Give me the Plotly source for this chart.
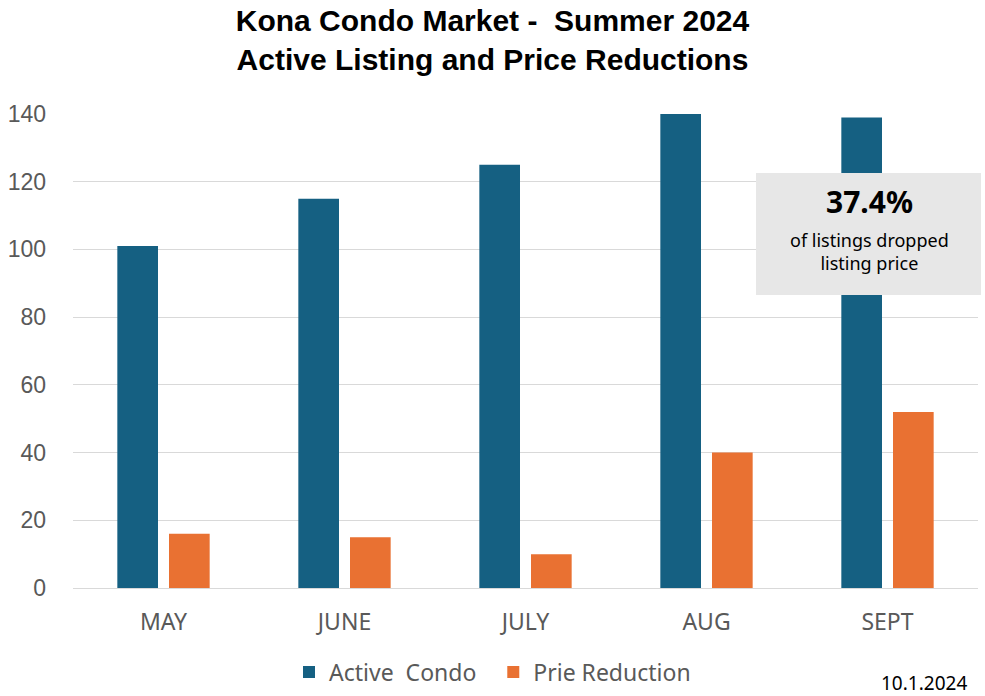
import plotly.graph_objects as go

months = ["MAY", "JUNE", "JULY", "AUG", "SEPT"]
active_condo = [101, 115, 125, 140, 139]
price_reduction = [16, 15, 10, 40, 52]
y_ticks = [0, 20, 40, 60, 80, 100, 120, 140]

BLUE = "#156082"
ORANGE = "#E97132"
GRAY_TXT = "#595959"
GRID = "#D9D9D9"

L, R, T, B = 73, 978, 114, 588
W, H = R - L, B - T


def px(x):
    return (x - L) / W


def py(y):
    return (B - y) / H


fig = go.Figure()
fig.add_trace(go.Bar(x=months, y=active_condo, name="Active\u00a0 Condo\u00a0\u00a0",
                     marker=dict(color=BLUE, line=dict(width=0))))
fig.add_trace(go.Bar(x=months, y=price_reduction, name="Prie Reduction",
                     marker=dict(color=ORANGE, line=dict(width=0))))

fig.update_layout(
    width=985, height=696,
    margin=dict(l=L, r=985 - R, t=T, b=696 - B),
    plot_bgcolor="white", paper_bgcolor="white",
    barmode="group", bargap=0.429, bargroupgap=0.213,
    title=dict(
        text="Kona Condo Market -\u00a0 Summer 2024<br>Active Listing and Price Reductions",
        x=0.5, xref="container", xanchor="center",
        y=1 - 31 / 696, yref="container", yanchor="middle",
        font=dict(family="Liberation Sans Narrow, Arial Narrow, sans-serif", size=30, color="black", weight="bold"),
    ),
    xaxis=dict(
        type="category", range=[-0.5, 4.5],
        showgrid=False, showline=False, zeroline=False,
        tickfont=dict(family="Noto Sans, sans-serif", size=23, color=GRAY_TXT),
        ticks="", ticklabelstandoff=18,
    ),
    yaxis=dict(
        range=[0, 140], tickvals=y_ticks,
        showgrid=True, gridcolor=GRID, gridwidth=1,
        zeroline=True, zerolinecolor=GRID, zerolinewidth=1,
        showline=False,
        tickfont=dict(family="Liberation Sans, Arial, sans-serif", size=23, color=GRAY_TXT),
        ticks="", ticklabelstandoff=26,
    ),
    legend=dict(
        orientation="h", xref="container", yref="container",
        x=0.5, xanchor="center", y=1 - 672 / 696, yanchor="middle",
        font=dict(family="Noto Sans, sans-serif", size=23, color=GRAY_TXT),
        itemwidth=30, traceorder="normal",
    ),
    showlegend=True,
)

# annotation box
fig.add_shape(type="rect", xref="paper", yref="paper",
              x0=px(756), x1=px(981), y0=py(295), y1=py(173),
              fillcolor="#E7E7E7", line=dict(width=0), layer="above")
fig.add_annotation(xref="paper", yref="paper", x=px(869), y=py(202),
                   text="<b>37.4%</b>", showarrow=False, xanchor="center", yanchor="middle",
                   font=dict(family="Noto Sans, sans-serif", size=30, color="black"))
fig.add_annotation(xref="paper", yref="paper", x=px(869), y=py(251),
                   text="of listings dropped<br>listing price", showarrow=False,
                   xanchor="center", yanchor="middle",
                   font=dict(family="Noto Sans, sans-serif", size=18, color="black"))

# date note
fig.add_annotation(xref="paper", yref="paper", x=px(969), y=py(683),
                   text="10.1.2024", showarrow=False, xanchor="right", yanchor="middle",
                   font=dict(family="Noto Sans, sans-serif", size=19, color="black"))

fig.write_html("out.html")
